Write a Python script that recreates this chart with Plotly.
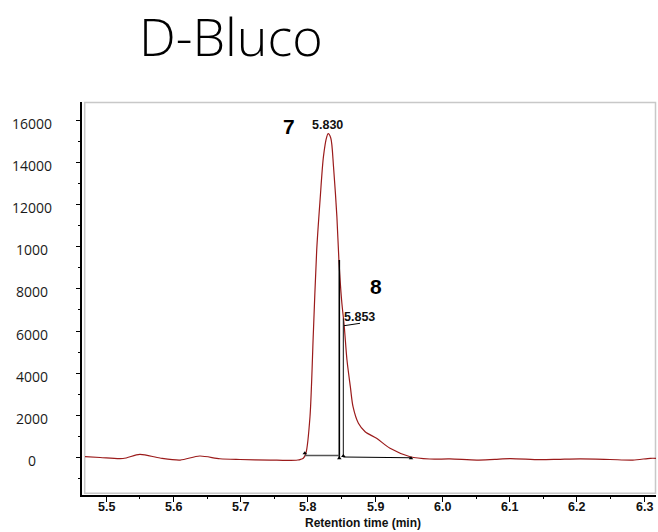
import plotly.graph_objects as go

# ---- data ----
time = [5.4685, 5.491, 5.525, 5.550, 5.580, 5.610, 5.639, 5.669, 5.699, 5.744,
        5.769, 5.785, 5.789, 5.793, 5.797, 5.803, 5.808, 5.813, 5.818, 5.823,
        5.828, 5.830, 5.834, 5.838, 5.843, 5.846, 5.850, 5.854, 5.858, 5.863,
        5.867, 5.875, 5.885, 5.902, 5.922, 5.952, 5.981, 6.011, 6.051, 6.078,
        6.101, 6.145, 6.175, 6.205, 6.249, 6.283, 6.309, 6.318]
signal = [47, 10, -38, 160, -15, -110, 80, -50, -85, -110,
          -130, -110, -80, -28, 223, 1943, 5908, 9841, 12210, 14262,
          15209, 15350, 15133, 13788, 11419, 9367, 7472, 6207, 4629, 3364,
          2416, 1630, 1232, 919, 445, 47, -62, -60, -110, -75,
          -45, -95, -75, -60, -85, -110, -28, -28]

peak_labels = ["7", "8"]
peak_label_pos = [(5.7723, 15716), (5.9012, 8102)]
rt_labels = ["5.830", "5.853"]
rt_label_pos = [(5.8294, 15763), (5.877, 6681)]

# integration marks
drop_a = ([5.8466, 5.8466], [-40, 9367])
drop_b = ([5.8526, 5.8526], [30, 6600])
base_1 = ([5.7953, 5.8466], [100, 100])
base_2 = ([5.8526, 5.9532], [33, 0])
leader = ([5.8536, 5.8774], [6254, 6368])
mark_t = [5.7953, 5.8466, 5.8526, 5.9532]
mark_v = [208, -28, 80, -28]

y_tickvals = [0, 2000, 4000, 6000, 8000, 10000, 12000, 14000, 16000]
y_ticktext = ["0", "2000", "4000", "6000", "8000", "1000", "12000", "14000", "16000"]
x_tickvals = [5.5, 5.6, 5.7, 5.8, 5.9, 6.0, 6.1, 6.2, 6.3]
x_ticktext = ["5.5", "5.6", "5.7", "5.8", "5.9", "6.0", "6.1", "6.2", "6.3"]

W, H = 658, 532
L, R, T, B = 82, 2, 102, 37
pw, ph = W - L - R, H - T - B

def px_x(x):
    return (x - L) / pw

def px_y(y):
    return (H - B - y) / ph

fig = go.Figure()
fig.add_trace(go.Scatter(x=time, y=signal, mode="lines",
                         line=dict(color="#9b1b1b", width=1.2, shape="spline", smoothing=0.8),
                         hoverinfo="skip"))
for (xs, ys), col, w in [(drop_a, "#000000", 1.6), (drop_b, "#222222", 1.1),
                         (base_1, "#555555", 1.5), (base_2, "#000000", 1.1),
                         (leader, "#000000", 1.0)]:
    fig.add_trace(go.Scatter(x=xs, y=ys, mode="lines", line=dict(color=col, width=w),
                             hoverinfo="skip"))
fig.add_trace(go.Scatter(x=mark_t, y=mark_v, mode="markers",
                         marker=dict(symbol="triangle-up", size=4, color="#000000"),
                         hoverinfo="skip"))

annotations = []
# y tick labels (centered as in reference)
for v, t in zip(y_tickvals, y_ticktext):
    annotations.append(dict(x=px_x(32), xref="paper", y=v, yref="y", text=t,
                            showarrow=False, xanchor="center", yanchor="middle", yshift=-3,
                            font=dict(family="Open Sans", size=14, color="#1a1a1a")))
# x tick labels
for v, t in zip(x_tickvals, x_ticktext):
    annotations.append(dict(x=v, xref="x", y=px_y(507), yref="paper", text=t,
                            showarrow=False, xanchor="center", yanchor="middle",
                            font=dict(family="Liberation Sans", size=12.5, color="#111111", weight="bold")))
# peak numbers
for lab, (tx, ty) in zip(peak_labels, peak_label_pos):
    annotations.append(dict(x=tx, y=ty, text=lab, showarrow=False,
                            xanchor="center", yanchor="middle",
                            font=dict(family="Liberation Sans", size=21, color="#000000", weight="bold")))
for lab, (tx, ty) in zip(rt_labels, rt_label_pos):
    annotations.append(dict(x=tx, y=ty, text=lab, showarrow=False,
                            xanchor="center", yanchor="middle",
                            font=dict(family="Liberation Sans", size=12.5, color="#111111", weight="bold")))
# axis title
annotations.append(dict(x=px_x(363), xref="paper", y=px_y(523), yref="paper",
                        text="Retention time (min)", showarrow=False,
                        xanchor="center", yanchor="middle",
                        font=dict(family="Liberation Sans", size=12, color="#111111", weight="bold")))
# chart title
annotations.append(dict(x=px_x(231), xref="paper", y=px_y(36), yref="paper",
                        text="D-Bluco", showarrow=False,
                        xanchor="center", yanchor="middle",
                        font=dict(family="Open Sans", size=52, color="#000000", weight=300)))

fig.update_layout(
    width=W, height=H,
    margin=dict(l=L, r=R, t=T, b=B),
    paper_bgcolor="white", plot_bgcolor="white",
    showlegend=False,
    annotations=annotations,
    shapes=[dict(type="rect", xref="paper", yref="paper",
                 x0=px_x(84.7), x1=px_x(655.5), y0=px_y(493.3), y1=px_y(102.5),
                 line=dict(color="#c8c8c8", width=1.5), layer="below")],
    xaxis=dict(range=[5.464, 6.3175], showgrid=False, zeroline=False,
               showline=True, linecolor="#000000", linewidth=1.5,
               tickmode="linear", tick0=5.5, dtick=0.1, showticklabels=False,
               ticks="outside", ticklen=5, tickcolor="#000000", tickwidth=1,
               minor=dict(tickmode="linear", tick0=5.45, dtick=0.1, ticks="outside",
                          ticklen=2, tickcolor="#000000")),
    yaxis=dict(range=[-1767, 16853], showgrid=False, zeroline=False,
               showline=True, linecolor="#000000", linewidth=1.5,
               tickmode="linear", tick0=0, dtick=2000, showticklabels=False,
               ticks="outside", ticklen=4, tickcolor="#000000", tickwidth=1,
               minor=dict(tickmode="linear", tick0=-1000, dtick=2000, ticks="outside",
                          ticklen=2, tickcolor="#000000")),
)

fig.write_html("out.html")
